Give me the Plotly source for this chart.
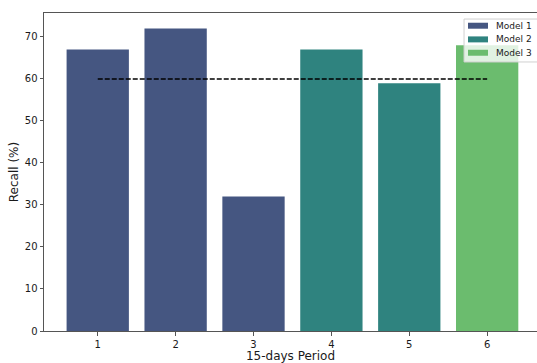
import plotly.graph_objects as go

# Recall per 15-day period, grouped by the model that produced it
periods_m1 = [1, 2, 3]
recall_m1 = [67, 72, 32]
periods_m2 = [4, 5]
recall_m2 = [67, 59]
periods_m3 = [6]
recall_m3 = [68]

target_x = [1, 6]
target_y = [60, 60]

tick_vals = [1, 2, 3, 4, 5, 6]
tick_text = ["1", "2", "3", "4", "5", "6"]

model_names = ["Model 1", "Model 2", "Model 3"]
colors = {"Model 1": "#455681", "Model 2": "#2f837f", "Model 3": "#6bbc6e"}

fig = go.Figure()
for name, xs, ys in zip(model_names,
                        [periods_m1, periods_m2, periods_m3],
                        [recall_m1, recall_m2, recall_m3]):
    fig.add_trace(go.Bar(
        x=xs, y=ys, name=name, width=0.8, showlegend=False,
        marker=dict(color=colors[name], line=dict(width=0)),
    ))

fig.add_trace(go.Scatter(
    x=target_x, y=target_y, mode="lines", showlegend=False,
    line=dict(color="black", width=1.4, dash="5px,2px"),
))

# Legend box drawn as paper-space shapes so rows can sit close together
shapes = [dict(
    type="rect", xref="paper", yref="paper", layer="above",
    x0=0.852, x1=1.02, y0=0.846, y1=0.981,
    fillcolor="rgba(255,255,255,0.8)", line=dict(color="#d0d0d0", width=1),
)]
annotations = []
row_y = [0.960, 0.917, 0.875]
for name, yc in zip(model_names, row_y):
    shapes.append(dict(
        type="rect", xref="paper", yref="paper", layer="above",
        x0=0.860, x1=0.9006, y0=yc - 0.0094, y1=yc + 0.0094,
        fillcolor=colors[name], line=dict(width=0),
    ))
    annotations.append(dict(
        text=name, xref="paper", yref="paper", x=0.9128, y=yc,
        xanchor="left", yanchor="middle", showarrow=False,
        font=dict(size=9, color="#1a1a1a"),
    ))

fig.update_layout(
    width=537, height=363,
    margin=dict(l=44, r=0, t=13, b=32),
    paper_bgcolor="white", plot_bgcolor="white",
    barmode="overlay", showlegend=False,
    font=dict(family="DejaVu Sans", size=10, color="#1a1a1a"),
    shapes=shapes, annotations=annotations,
    xaxis=dict(
        range=[0.31, 6.64], tickvals=tick_vals, ticktext=tick_text,
        showgrid=False, zeroline=False,
        showline=True, linecolor="#555555", linewidth=1, mirror=True,
        ticks="outside", ticklen=3.5, tickcolor="#555555",
        title=dict(text="15-days Period", font=dict(size=12), standoff=3),
    ),
    yaxis=dict(
        range=[0, 75.7], tickvals=[0, 10, 20, 30, 40, 50, 60, 70],
        showgrid=False, zeroline=False,
        showline=True, linecolor="#555555", linewidth=1,
        ticks="outside", ticklen=3.5, tickcolor="#555555",
        title=dict(text="Recall (%)", font=dict(size=12), standoff=3),
    ),
)

fig.write_html("out.html")
